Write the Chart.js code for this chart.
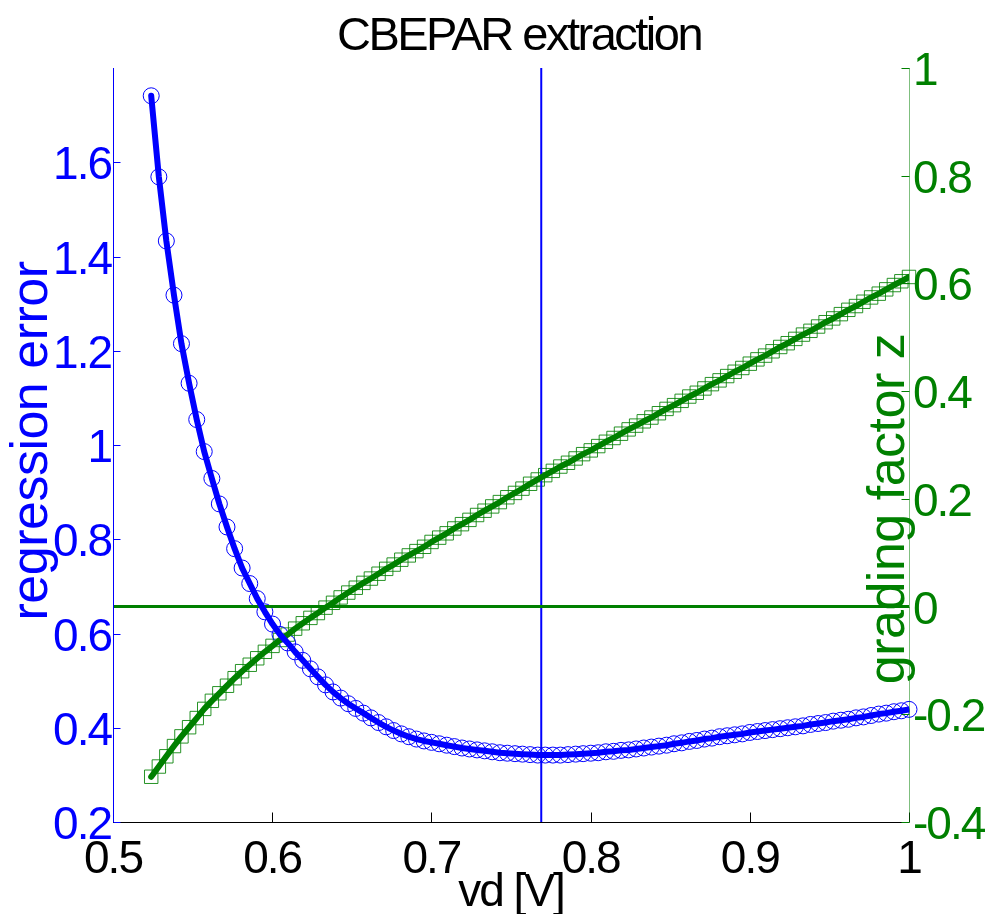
<!DOCTYPE html>
<html>
<head>
<meta charset="utf-8">
<title>CBEPAR extraction</title>
<script src="https://cdn.jsdelivr.net/npm/chart.js@4.4.1/dist/chart.umd.min.js"></script>
<style>
    html, body { margin: 0; padding: 0; background: #fff; }
    #wrap { width: 993px; height: 914px; }
</style>
</head>
<body>
<div id="wrap"><canvas id="grafico" width="993" height="914"></canvas></div>
<script>
// Sweep of vd [V]
const vd = [
    0.5240, 0.5288, 0.5335, 0.5383, 0.5430, 0.5478, 0.5526, 0.5573, 0.5621, 0.5668,
    0.5716, 0.5764, 0.5811, 0.5859, 0.5906, 0.5954, 0.6002, 0.6049, 0.6097, 0.6144,
    0.6192, 0.6240, 0.6287, 0.6335, 0.6382, 0.6430, 0.6478, 0.6525, 0.6573, 0.6620,
    0.6668, 0.6716, 0.6763, 0.6811, 0.6858, 0.6906, 0.6954, 0.7001, 0.7049, 0.7096,
    0.7144, 0.7192, 0.7239, 0.7287, 0.7334, 0.7382, 0.7430, 0.7477, 0.7525, 0.7572,
    0.7620, 0.7668, 0.7715, 0.7763, 0.7810, 0.7858, 0.7906, 0.7953, 0.8001, 0.8048,
    0.8096, 0.8144, 0.8191, 0.8239, 0.8286, 0.8334, 0.8382, 0.8429, 0.8477, 0.8524,
    0.8572, 0.8620, 0.8667, 0.8715, 0.8762, 0.8810, 0.8858, 0.8905, 0.8953, 0.9000,
    0.9048, 0.9096, 0.9143, 0.9191, 0.9238, 0.9286, 0.9334, 0.9381, 0.9429, 0.9476,
    0.9524, 0.9572, 0.9619, 0.9667, 0.9714, 0.9762, 0.9810, 0.9857, 0.9905, 0.9952,
    1.0000
];

// Regression error (left axis)
const regressionError = [
    1.741, 1.569, 1.433, 1.318, 1.215, 1.131, 1.054, 0.986, 0.929, 0.875,
    0.826, 0.780, 0.739, 0.706, 0.674, 0.646, 0.620, 0.598, 0.580, 0.561,
    0.543, 0.525, 0.508, 0.491, 0.476, 0.463, 0.451, 0.441, 0.431, 0.421,
    0.411, 0.402, 0.394, 0.387, 0.381, 0.376, 0.372, 0.369, 0.366, 0.363,
    0.360, 0.357, 0.355, 0.353, 0.351, 0.349, 0.347, 0.346, 0.345, 0.344,
    0.343, 0.342, 0.342, 0.342, 0.342, 0.343, 0.344, 0.345, 0.346, 0.347,
    0.349, 0.350, 0.352, 0.353, 0.355, 0.357, 0.359, 0.361, 0.363, 0.366,
    0.368, 0.371, 0.373, 0.376, 0.378, 0.381, 0.383, 0.385, 0.387, 0.390,
    0.392, 0.394, 0.396, 0.398, 0.400, 0.402, 0.404, 0.407, 0.409, 0.411,
    0.414, 0.416, 0.418, 0.421, 0.423, 0.426, 0.429, 0.431, 0.434, 0.436,
    0.439
];

// Grading factor z (right axis)
const gradingFactor = [
    -0.316, -0.297, -0.278, -0.259, -0.241, -0.224, -0.207, -0.190, -0.175, -0.161,
    -0.147, -0.133, -0.120, -0.108, -0.096, -0.084, -0.073, -0.062, -0.052, -0.041,
    -0.031, -0.021, -0.012, -0.002, 0.007, 0.017, 0.026, 0.035, 0.044, 0.052,
    0.061, 0.070, 0.078, 0.087, 0.095, 0.103, 0.111, 0.120, 0.128, 0.136,
    0.145, 0.153, 0.161, 0.170, 0.178, 0.186, 0.194, 0.203, 0.211, 0.219,
    0.228, 0.236, 0.244, 0.252, 0.260, 0.267, 0.275, 0.283, 0.290, 0.298,
    0.306, 0.313, 0.321, 0.329, 0.336, 0.344, 0.351, 0.359, 0.367, 0.374,
    0.382, 0.390, 0.397, 0.405, 0.413, 0.420, 0.428, 0.436, 0.443, 0.451,
    0.459, 0.466, 0.474, 0.482, 0.489, 0.497, 0.505, 0.512, 0.520, 0.528,
    0.535, 0.543, 0.551, 0.558, 0.566, 0.574, 0.581, 0.589, 0.597, 0.604,
    0.612
];

// Selected vd (minimum of the error) and the z = 0 reference
const vdSelected = 0.769;
const zReference = 0;

// Tick labels
const vdTicks = [0.5, 0.6, 0.7, 0.8, 0.9, 1];
const errorTicks = [0.2, 0.4, 0.6, 0.8, 1, 1.2, 1.4, 1.6];
const zTicks = [-0.4, -0.2, 0, 0.2, 0.4, 0.6, 0.8, 1];

const errorRange = [0.2, 1.8];
const zRange = [-0.4, 1];

const BLUE = '#0000ff';
const GREEN = '#008000';
const FONT = '"Liberation Sans", Arial, Helvetica, sans-serif';

const toPoints = (xs, ys) => xs.map((x, i) => ({ x: x, y: ys[i] }));

const errorPoints = toPoints(vd, regressionError);
const zPoints = toPoints(vd, gradingFactor);

// Text helper (letter spacing like the condensed Helvetica of the original plot)
const drawText = (ctx, text, x, y, size, color, align, spacing, rotate) => {
    ctx.save();
    ctx.font = size + 'px ' + FONT;
    ctx.fillStyle = color;
    ctx.textAlign = align;
    ctx.textBaseline = 'alphabetic';
    if ('letterSpacing' in ctx) ctx.letterSpacing = spacing + 'px';
    ctx.translate(x, y);
    if (rotate) ctx.rotate(-Math.PI / 2);
    ctx.fillText(text, 0, 0);
    ctx.restore();
};

// Axes, inward ticks, labels and titles
const axesPlugin = {
    id: 'axesPlugin',
    afterDraw(chart) {
        const ctx = chart.ctx;
        const area = chart.chartArea;
        const sx = chart.scales.x;
        const sy = chart.scales.y;
        const sz = chart.scales.y2;
        const left = Math.round(area.left) + 0.5;
        const right = Math.round(area.right) + 0.5;
        const bottom = Math.round(area.bottom) + 0.5;

        ctx.save();
        ctx.lineWidth = 1;

        // bottom axis
        ctx.strokeStyle = '#000';
        ctx.beginPath();
        ctx.moveTo(area.left, bottom);
        ctx.lineTo(area.right, bottom);
        vdTicks.forEach(v => {
            const px = Math.round(sx.getPixelForValue(v)) + 0.5;
            ctx.moveTo(px, bottom);
            ctx.lineTo(px, bottom - 10);
        });
        ctx.stroke();

        // left axis
        ctx.strokeStyle = BLUE;
        ctx.beginPath();
        ctx.moveTo(left, area.top);
        ctx.lineTo(left, area.bottom);
        errorTicks.forEach(v => {
            const py = Math.round(sy.getPixelForValue(v)) + 0.5;
            ctx.moveTo(left, py);
            ctx.lineTo(left + 7, py);
        });
        ctx.stroke();

        // right axis
        ctx.strokeStyle = 'rgba(0,128,0,0.5)';
        ctx.beginPath();
        ctx.moveTo(right, area.top);
        ctx.lineTo(right, area.bottom);
        ctx.stroke();
        ctx.strokeStyle = GREEN;
        ctx.beginPath();
        zTicks.forEach(v => {
            const py = Math.round(sz.getPixelForValue(v)) + 0.5;
            ctx.moveTo(right, py);
            ctx.lineTo(right - 8, py);
        });
        ctx.stroke();
        ctx.restore();

        vdTicks.forEach(v => {
            drawText(ctx, String(v), sx.getPixelForValue(v), area.bottom + 51, 46, '#000', 'center', -2);
        });
        errorTicks.forEach(v => {
            drawText(ctx, String(v), area.left - 2, sy.getPixelForValue(v) + 17, 46, BLUE, 'right', -2);
        });
        zTicks.forEach(v => {
            drawText(ctx, String(v), area.right + 4, sz.getPixelForValue(v) + 17, 46, GREEN, 'left', -2);
        });

        drawText(ctx, 'CBEPAR extraction', 519, 50, 47, '#000', 'center', -2.5);
        drawText(ctx, 'vd [V]', (area.left + area.right) / 2, 906, 46, '#000', 'center', -2);
        drawText(ctx, 'regression error', 47, 441, 52, BLUE, 'center', -0.5, true);
        drawText(ctx, 'grading factor z', 904, 509, 52, GREEN, 'center', -0.5, true);
    }
};

const contexto = document.getElementById('grafico').getContext('2d');

new Chart(contexto, {
    type: 'line',
    data: {
        datasets: [{
            label: 'regression error',
            data: errorPoints,
            yAxisID: 'y',
            borderColor: BLUE,
            borderWidth: 6,
            borderCapStyle: 'round',
            borderJoinStyle: 'round',
            pointRadius: 0,
            tension: 0,
            order: 1
        }, {
            label: 'grading factor z',
            data: zPoints,
            yAxisID: 'y2',
            borderColor: GREEN,
            borderWidth: 6,
            borderCapStyle: 'round',
            borderJoinStyle: 'round',
            pointRadius: 0,
            tension: 0,
            order: 2
        }, {
            label: 'z = 0',
            data: [{ x: vdTicks[0], y: zReference }, { x: vdTicks[vdTicks.length - 1], y: zReference }],
            yAxisID: 'y2',
            borderColor: GREEN,
            borderWidth: 3,
            pointRadius: 0,
            order: 3
        }, {
            label: 'selected vd',
            data: [{ x: vdSelected, y: errorRange[0] }, { x: vdSelected, y: errorRange[1] }],
            yAxisID: 'y',
            borderColor: BLUE,
            borderWidth: 2,
            pointRadius: 0,
            order: 3
        }, {
            label: 'error markers',
            data: errorPoints,
            yAxisID: 'y',
            showLine: false,
            pointStyle: 'circle',
            pointRadius: 8,
            pointBorderWidth: 1,
            pointBorderColor: BLUE,
            pointBackgroundColor: 'rgba(0,0,0,0)',
            clip: false,
            order: 4
        }, {
            label: 'z markers',
            data: zPoints,
            yAxisID: 'y2',
            showLine: false,
            pointStyle: 'rect',
            pointRadius: 9.5,
            pointBorderWidth: 1,
            pointBorderColor: 'rgba(0,128,0,0.85)',
            pointBackgroundColor: 'rgba(0,0,0,0)',
            clip: false,
            order: 5
        }]
    },
    options: {
        responsive: false,
        animation: false,
        devicePixelRatio: 1,
        layout: { padding: { top: 68, left: 0, right: 0, bottom: 0 } },
        plugins: {
            legend: { display: false },
            tooltip: { enabled: false },
            title: { display: false }
        },
        scales: {
            x: {
                type: 'linear',
                min: vdTicks[0],
                max: vdTicks[vdTicks.length - 1],
                ticks: { display: false },
                grid: { display: false },
                border: { display: false },
                afterFit: (s) => { s.height = 92; }
            },
            y: {
                type: 'linear',
                position: 'left',
                min: errorRange[0],
                max: errorRange[1],
                ticks: { display: false },
                grid: { display: false },
                border: { display: false },
                afterFit: (s) => { s.width = 113; }
            },
            y2: {
                type: 'linear',
                position: 'right',
                min: zRange[0],
                max: zRange[1],
                ticks: { display: false },
                grid: { display: false },
                border: { display: false },
                afterFit: (s) => { s.width = 84; }
            }
        }
    },
    plugins: [axesPlugin]
});
</script>
</body>
</html>
